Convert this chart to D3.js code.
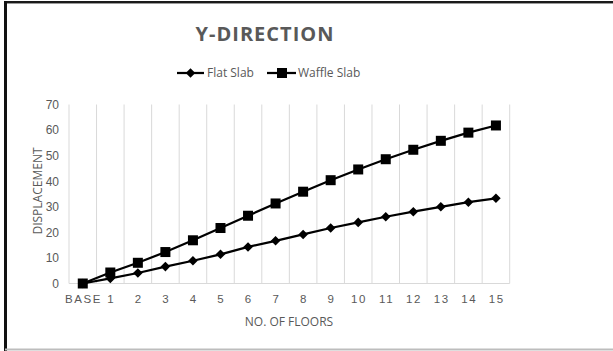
<!DOCTYPE html>
<html>
<head>
<meta charset="utf-8">
<script src="https://cdn.jsdelivr.net/npm/d3@7/dist/d3.min.js"></script>
<style>
  html, body { margin: 0; padding: 0; background: #fff; }
  svg { display: block; font-family: "Open Sans", "Liberation Sans", sans-serif; }
</style>
</head>
<body>
<svg id="chart" width="613" height="351"></svg>
<script>
// Storey labels along the x axis
const floors = ["BASE", "1", "2", "3", "4", "5", "6", "7", "8", "9", "10", "11", "12", "13", "14", "15"];
// Lateral displacement in the Y direction per storey
const flatSlab   = [0, 2.0, 4.1, 6.6, 8.9, 11.4, 14.3, 16.7, 19.2, 21.7, 23.9, 26.1, 28.1, 30.0, 31.8, 33.3];
const waffleSlab = [0, 4.3, 8.1, 12.3, 16.9, 21.7, 26.5, 31.3, 35.9, 40.4, 44.6, 48.6, 52.3, 55.8, 59.0, 61.8];
const yTicks = [0, 10, 20, 30, 40, 50, 60, 70];

const textGrey = "#595959";
const svg = d3.select("#chart");

// Chart frame
svg.append("rect").attr("x", 0).attr("y", 0).attr("width", 613).attr("height", 351).attr("fill", "#fff");
svg.append("line").attr("x1", 5).attr("x2", 613).attr("y1", 2).attr("y2", 2)
  .attr("stroke", "#1a1a1a").attr("stroke-width", 2);
svg.append("line").attr("x1", 5).attr("x2", 613).attr("y1", 3.5).attr("y2", 3.5)
  .attr("stroke", "#9a9a9a").attr("stroke-width", 1);
svg.append("line").attr("x1", 5.5).attr("x2", 5.5).attr("y1", 1).attr("y2", 351)
  .attr("stroke", "#111").attr("stroke-width", 3);
svg.append("line").attr("x1", 5).attr("x2", 613).attr("y1", 349.5).attr("y2", 349.5)
  .attr("stroke", "#bdbdbd").attr("stroke-width", 2);

const plot = { left: 69, right: 509.7, top: 104.5, bottom: 283.5 };

const x = d3.scaleBand().domain(floors).range([plot.left, plot.right]).padding(0);
const y = d3.scaleLinear().domain([0, 70]).range([plot.bottom, plot.top]);

// Vertical gridlines on category boundaries
const bounds = floors.map(f => x(f)).concat([x(floors[floors.length - 1]) + x.bandwidth()]);
svg.append("g").selectAll("line").data(bounds).join("line")
  .attr("x1", d => d).attr("x2", d => d)
  .attr("y1", plot.top).attr("y2", plot.bottom)
  .attr("stroke", "#d9d9d9").attr("stroke-width", 1);

// Horizontal axis line
svg.append("line").attr("x1", plot.left).attr("x2", plot.right)
  .attr("y1", y(0)).attr("y2", y(0)).attr("stroke", "#d9d9d9").attr("stroke-width", 1);

// Y axis tick labels
const yAxis = d3.axisLeft(y).tickValues(yTicks).tickSize(0).tickPadding(10);
const gy = svg.append("g").attr("transform", `translate(${plot.left},0)`).call(yAxis);
gy.select(".domain").remove();
gy.selectAll("text").attr("fill", textGrey).style("font-size", "12px");

// X axis tick labels (spaced lettering, shifted to keep them centred)
const xAxis = d3.axisBottom(x).tickSize(0).tickPadding(11);
const gx = svg.append("g").attr("transform", `translate(0,${plot.bottom})`).call(xAxis);
gx.select(".domain").remove();
gx.selectAll("text").attr("fill", textGrey).attr("dx", "0.8px")
  .style("font-size", "11.5px").style("letter-spacing", "1.6px");

// Axis titles
svg.append("text").attr("x", 289).attr("y", 326).attr("text-anchor", "middle")
  .attr("fill", textGrey).style("font-size", "12px").text("NO. OF FLOORS");
svg.append("text").attr("transform", "translate(42,191) rotate(-90)").attr("text-anchor", "middle")
  .attr("fill", textGrey).style("font-size", "12px").text("DISPLACEMENT");

// Chart title
svg.append("text").attr("x", 265).attr("y", 41).attr("text-anchor", "middle")
  .attr("fill", textGrey).style("font-size", "20px").style("font-weight", "bold")
  .style("letter-spacing", "1px").text("Y-DIRECTION");

const line = d3.line().x((d, i) => x(floors[i]) + x.bandwidth() / 2).y(d => y(d));
const diamond = d3.symbol().type(d3.symbolDiamond2).size(58);

// Series lines
svg.append("path").datum(flatSlab).attr("d", line)
  .attr("fill", "none").attr("stroke", "#000").attr("stroke-width", 2.25);
svg.append("path").datum(waffleSlab).attr("d", line)
  .attr("fill", "none").attr("stroke", "#000").attr("stroke-width", 2.25);

// Markers
svg.append("g").selectAll("rect").data(waffleSlab).join("rect")
  .attr("x", (d, i) => x(floors[i]) + x.bandwidth() / 2 - 5)
  .attr("y", d => y(d) - 5)
  .attr("width", 10).attr("height", 10).attr("fill", "#000");
svg.append("g").selectAll("path").data(flatSlab).join("path")
  .attr("transform", (d, i) => `translate(${x(floors[i]) + x.bandwidth() / 2},${y(d)})`)
  .attr("d", diamond).attr("fill", "#000");

// Legend
const lg = svg.append("g");
lg.append("line").attr("x1", 177).attr("x2", 204).attr("y1", 73).attr("y2", 73)
  .attr("stroke", "#000").attr("stroke-width", 2.25);
lg.append("path").attr("transform", "translate(190.5,73)").attr("d", diamond).attr("fill", "#000");
lg.append("text").attr("x", 207).attr("y", 77).attr("fill", textGrey)
  .style("font-size", "12px").text("Flat Slab");
lg.append("line").attr("x1", 267).attr("x2", 296).attr("y1", 73).attr("y2", 73)
  .attr("stroke", "#000").attr("stroke-width", 2.25);
lg.append("rect").attr("x", 277).attr("y", 68).attr("width", 10).attr("height", 10).attr("fill", "#000");
lg.append("text").attr("x", 298).attr("y", 77).attr("fill", textGrey)
  .style("font-size", "12px").text("Waffle Slab");
</script>
</body>
</html>
